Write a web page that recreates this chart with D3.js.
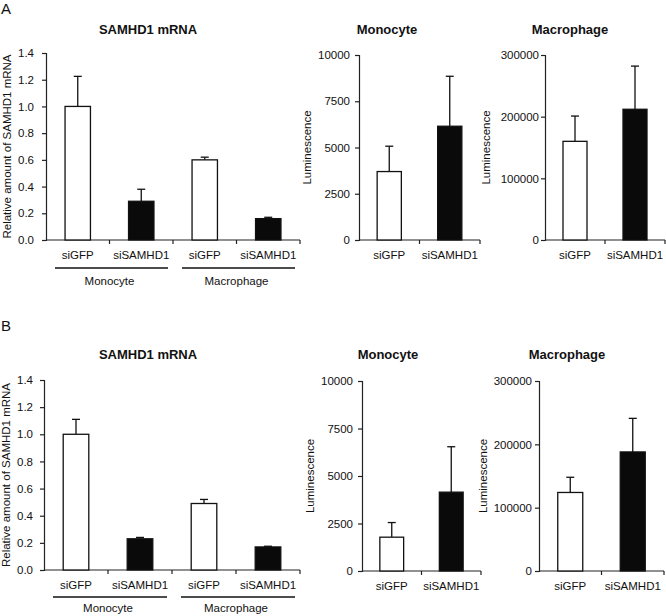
<!DOCTYPE html>
<html><head><meta charset="utf-8">
<script src="https://cdn.jsdelivr.net/npm/d3@7"></script>
<style>
html,body{margin:0;padding:0;background:#fff;}
text{font-family:"Liberation Sans",Arial,Helvetica,sans-serif;fill:#111;}
</style></head>
<body>
<svg id="c" width="666" height="616"></svg>
<script>
// ---- data ----
const conditions = ["siGFP", "siSAMHD1"];
const cellTypes = ["Monocyte", "Macrophage"];
const barFill = ["#ffffff", "#0a0a0a"];

// Panel A
const mrnaA = [1.00, 0.29, 0.60, 0.16];
const mrnaAErr = [0.225, 0.09, 0.02, 0.01];
const lumMonoA = [3700, 6150];
const lumMonoAErr = [1370, 2700];
const lumMacA = [160000, 212000];
const lumMacAErr = [41000, 70000];

// Panel B
const mrnaB = [1.00, 0.23, 0.49, 0.17];
const mrnaBErr = [0.11, 0.01, 0.03, 0.005];
const lumMonoB = [1780, 4150];
const lumMonoBErr = [770, 2390];
const lumMacB = [124000, 188000];
const lumMacBErr = [24000, 53000];

// tick labels
const mrnaTicks = [0, 0.2, 0.4, 0.6, 0.8, 1.0, 1.2, 1.4];
const monoTicks = [0, 2500, 5000, 7500, 10000];
const macTicks = [0, 100000, 200000, 300000];

const svg = d3.select("#c");
const FS = 11.5;

function panel(o) {
  const g = svg.append("g");
  const y = d3.scaleLinear().domain([0, o.max]).range([o.y0, o.yTop]);
  const cats = o.values.map((d, i) => i);
  const x = d3.scaleBand().domain(cats).range([o.x0, o.x1]).paddingInner(0).paddingOuter(0);
  const bw = x.bandwidth() * 0.4;

  // y axis
  const yAxis = d3.axisLeft(y).tickValues(o.ticks).tickSize(4).tickPadding(o.pad)
    .tickFormat(o.fmt);
  const ya = g.append("g").attr("transform", `translate(${o.x0},0)`).call(yAxis);
  ya.select(".domain").attr("stroke", "#222").attr("stroke-width", 1.2);
  ya.selectAll(".tick line").attr("stroke", "#222").attr("stroke-width", 1.2);
  ya.selectAll(".tick text").attr("font-size", FS).attr("font-family", "Liberation Sans, Arial, sans-serif").attr("fill", "#111");

  // x axis line with boundary ticks
  const bounds = cats.map(i => x(i)).concat([o.x1]);
  g.append("line").attr("x1", o.x0).attr("x2", o.x1).attr("y1", o.y0).attr("y2", o.y0)
    .attr("stroke", "#222").attr("stroke-width", 1.2);
  g.selectAll(".bt").data(bounds.slice(1)).join("line")
    .attr("x1", d => d).attr("x2", d => d).attr("y1", o.y0).attr("y2", o.y0 + 4)
    .attr("stroke", "#222").attr("stroke-width", 1.2);

  // error bars (upper only)
  g.selectAll(".err").data(o.values).join("line")
    .attr("x1", (d, i) => x(i) + x.bandwidth() / 2).attr("x2", (d, i) => x(i) + x.bandwidth() / 2)
    .attr("y1", d => y(d)).attr("y2", (d, i) => y(d + o.err[i]))
    .attr("stroke", "#111").attr("stroke-width", 1.3);
  g.selectAll(".cap").data(o.values).join("line")
    .attr("x1", (d, i) => x(i) + x.bandwidth() / 2 - 4).attr("x2", (d, i) => x(i) + x.bandwidth() / 2 + 4)
    .attr("y1", (d, i) => y(d + o.err[i])).attr("y2", (d, i) => y(d + o.err[i]))
    .attr("stroke", "#111").attr("stroke-width", 1.3);

  // bars
  g.selectAll(".bar").data(o.values).join("rect")
    .attr("x", (d, i) => x(i) + x.bandwidth() / 2 - bw / 2)
    .attr("width", bw)
    .attr("y", d => y(d))
    .attr("height", d => o.y0 - y(d))
    .attr("fill", (d, i) => barFill[i % 2])
    .attr("stroke", "#111").attr("stroke-width", 1.3);

  // category labels
  g.selectAll(".cl").data(o.values).join("text")
    .attr("x", (d, i) => x(i) + x.bandwidth() / 2).attr("y", o.y0 + 19)
    .attr("text-anchor", "middle").attr("font-size", FS)
    .text((d, i) => conditions[i % 2]);

  // group labels
  if (o.groups) {
    cellTypes.forEach((ct, gi) => {
      const a = x(gi * 2), b = x(gi * 2 + 1) + x.bandwidth();
      g.append("line").attr("x1", a + 9).attr("x2", b - 5)
        .attr("y1", o.y0 + o.ulOff).attr("y2", o.y0 + o.ulOff)
        .attr("stroke", "#111").attr("stroke-width", 1.3);
      g.append("text").attr("x", (a + b) / 2).attr("y", o.y0 + o.grOff)
        .attr("text-anchor", "middle").attr("font-size", FS).text(ct);
    });
  }

  // title
  g.append("text").attr("x", o.titleX).attr("y", o.titleY)
    .attr("text-anchor", "middle").attr("font-size", 13).attr("font-weight", "bold").text(o.title);

  // y label
  g.append("text")
    .attr("transform", `translate(${o.ylabX},${(o.y0 + o.yTop) / 2}) rotate(-90)`)
    .attr("text-anchor", "middle").attr("dominant-baseline", "central")
    .attr("font-size", FS).text(o.ylab);
}

const fmt1 = d3.format(".1f");
const fmt0 = d3.format("d");

// Panel letters
svg.append("text").attr("x", 1).attr("y", 14).attr("font-size", 15).text("A");
svg.append("text").attr("x", 1).attr("y", 331).attr("font-size", 15).text("B");

// Row A
panel({values: mrnaA, err: mrnaAErr, max: 1.4, ticks: mrnaTicks, fmt: fmt1, pad: 8,
  x0: 46, x1: 300, y0: 240, yTop: 53, groups: true, ulOff: 28, grOff: 45,
  title: "SAMHD1 mRNA", titleX: 148, titleY: 34, ylab: "Relative amount of SAMHD1 mRNA", ylabX: 7});
panel({values: lumMonoA, err: lumMonoAErr, max: 10000, ticks: monoTicks, fmt: fmt0, pad: 5,
  x0: 359, x1: 480, y0: 240, yTop: 55,
  title: "Monocyte", titleX: 387, titleY: 34, ylab: "Luminescence", ylabX: 307});
panel({values: lumMacA, err: lumMacAErr, max: 300000, ticks: macTicks, fmt: fmt0, pad: 2,
  x0: 545, x1: 665, y0: 240, yTop: 55,
  title: "Macrophage", titleX: 570, titleY: 34, ylab: "Luminescence", ylabX: 486});

// Row B
panel({values: mrnaB, err: mrnaBErr, max: 1.4, ticks: mrnaTicks, fmt: fmt1, pad: 7,
  x0: 44, x1: 300, y0: 570, yTop: 380, groups: true, ulOff: 27, grOff: 42,
  title: "SAMHD1 mRNA", titleX: 148, titleY: 359, ylab: "Relative amount of SAMHD1 mRNA", ylabX: 6});
panel({values: lumMonoB, err: lumMonoBErr, max: 10000, ticks: monoTicks, fmt: fmt0, pad: 5,
  x0: 362, x1: 481, y0: 571, yTop: 381,
  title: "Monocyte", titleX: 388, titleY: 359, ylab: "Luminescence", ylabX: 310});
panel({values: lumMacB, err: lumMacBErr, max: 300000, ticks: macTicks, fmt: fmt0, pad: 3,
  x0: 539, x1: 664, y0: 571, yTop: 381,
  title: "Macrophage", titleX: 567, titleY: 359, ylab: "Luminescence", ylabX: 483});
</script>
</body></html>
